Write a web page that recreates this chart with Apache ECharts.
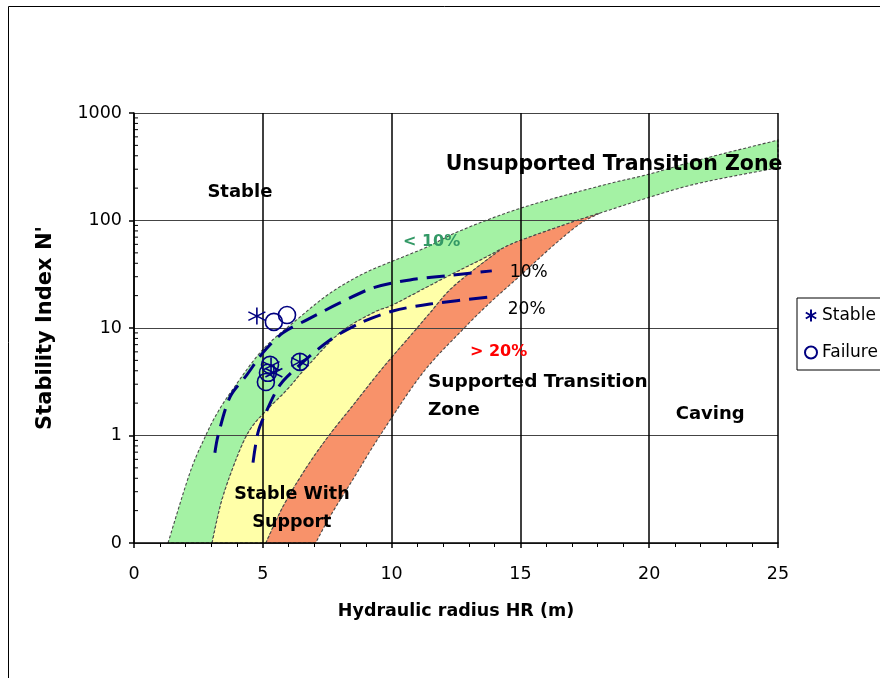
<!DOCTYPE html>
<html>
<head>
<meta charset="utf-8">
<script src="https://cdn.jsdelivr.net/npm/echarts@6/dist/echarts.min.js"></script>
<style>html,body{margin:0;padding:0;background:#fff}#c{width:880px;height:678px}</style>
</head>
<body>
<div id="c"></div>
<script>
// ---- data ----
// Curve A: upper-left edge of the green band
const hrA = [1.32, 2.17, 2.76, 3.22, 3.84, 5.0, 6.33, 7.6, 8.9, 10.05, 11.4, 12.65, 15.0, 18.1, 20.0, 22.0, 25.0];
const nA  = [0.1, 0.45, 0.97, 1.6, 2.7, 6.3, 12, 21, 32, 42, 57, 80, 130, 210, 270, 370, 560];
// Curve B: lower edge of the green band
const hrB = [3.03, 3.41, 4.0, 4.5, 5.16, 5.94, 6.71, 7.99, 9.27, 10.05, 11.37, 12.38, 13.7, 14.3, 14.98, 16.92, 18.08, 20.02, 21.96, 25.0];
const nB  = [0.1, 0.25, 0.63, 1.13, 1.73, 2.66, 4.35, 9.0, 13.8, 16.4, 24, 32, 46, 55, 65, 95, 117, 165, 223, 310];
// Curve C: yellow / orange boundary
const hrC = [5.12, 5.78, 6.64, 7.53, 8.58, 9.66, 10.83, 11.49, 12.26, 13.19, 14.3];
const nC  = [0.1, 0.217, 0.48, 0.97, 2.01, 4.26, 9.0, 13.8, 22.6, 34.7, 55];
// Curve D: lower-right edge of the orange band
const hrD = [7.05, 7.6, 8.58, 9.55, 11.2, 12.75, 13.81, 14.98, 16.26, 17.31, 18.08];
const nD  = [0.1, 0.175, 0.42, 1.0, 3.8, 9.6, 17.1, 30.5, 58, 93, 117];
// Dashed 10% and 20% lines
const hr10 = [3.14, 3.26, 3.73, 4.38, 5.0, 5.78, 6.71, 7.99, 9.27, 10.71, 12.38, 13.89];
const n10  = [0.69, 0.99, 2.29, 3.66, 5.87, 9.0, 11.9, 17.1, 23.6, 28, 31, 34];
const hr20 = [4.62, 4.81, 5.08, 5.67, 6.44, 7.61, 8.77, 10.05, 11.49, 13.89];
const n20  = [0.56, 1.06, 1.56, 2.96, 4.54, 7.74, 11.1, 14.4, 16.7, 19.5];
// Case points
const stableHR = [4.77, 5.32, 5.43, 6.44];
const stableN  = [12.9, 4.44, 3.83, 4.84];
const failHR = [5.43, 5.94, 5.28, 5.2, 5.12, 6.44];
const failN  = [11.4, 13.2, 4.54, 3.83, 3.15, 4.84];
// Axis ticks
const xTicks = [0, 5, 10, 15, 20, 25];
const yTicks = [0.1, 1, 10, 100, 1000];
const yTickLabels = ['0', '1', '10', '100', '1000'];
// Zone annotations (anchored in data coordinates)
const noteText = ['Stable', 'Unsupported Transition Zone', '< 10%', '10%', '20%', '> 20%', 'Supported Transition', 'Zone', 'Caving', 'Stable With', 'Support'];
const noteHR   = [4.11, 12.1, 10.44, 14.59, 14.51, 13.04, 11.41, 11.41, 21.03, 6.13, 6.13];
const noteN    = [184, 328, 63, 33, 14.7, 6.0, 3.15, 1.73, 1.59, 0.28, 0.154];

// ---- styles ----
const FONT = '"DejaVu Sans", Verdana, sans-serif';
const noteStyle = [
  {font: 'bold 18px ' + FONT, fill: '#000', align: 'center'},
  {font: 'bold 20.5px ' + FONT, fill: '#000', align: 'left'},
  {font: 'bold 16px ' + FONT, fill: '#339966', align: 'left'},
  {font: '17px ' + FONT, fill: '#000', align: 'left'},
  {font: '17px ' + FONT, fill: '#000', align: 'left'},
  {font: 'bold 16px ' + FONT, fill: '#ff0000', align: 'left'},
  {font: 'bold 18.5px ' + FONT, fill: '#000', align: 'left'},
  {font: 'bold 18.5px ' + FONT, fill: '#000', align: 'left'},
  {font: 'bold 18px ' + FONT, fill: '#000', align: 'left'},
  {font: 'bold 17.5px ' + FONT, fill: '#000', align: 'center'},
  {font: 'bold 17.5px ' + FONT, fill: '#000', align: 'center'}
];
const NAVY = '#000080';
const ASTERISK = 'path://M10,0L10,20M1.34,5L18.66,15M1.34,15L18.66,5';

const zip = (xs, ys) => xs.map((x, i) => [x, ys[i]]);
const A = zip(hrA, nA), B = zip(hrB, nB), C = zip(hrC, nC), D = zip(hrD, nD);
const mergeC = hrC[hrC.length - 1], mergeD = hrD[hrD.length - 1];
// each band: list of edges, each edge drawn as a smooth curve, joined by straight lines
const greenEdges = [A, B.slice().reverse()];
const yellowEdges = [B.filter(p => p[0] <= mergeC), C.slice().reverse()];
const orangeEdges = [C, [C[C.length - 1]].concat(B.filter(p => p[0] > mergeC && p[0] < mergeD)).concat([D[D.length - 1]]), D.slice().reverse()];

// Catmull-Rom sampling in pixel space (rendering only)
function smoothPixels(P) {
  const out = [P[0]];
  const n = P.length;
  for (let i = 0; i < n - 1; i++) {
    const p0 = P[Math.max(i - 1, 0)], p1 = P[i], p2 = P[i + 1], p3 = P[Math.min(i + 2, n - 1)];
    const c1 = [p1[0] + (p2[0] - p0[0]) / 6, p1[1] + (p2[1] - p0[1]) / 6];
    const c2 = [p2[0] - (p3[0] - p1[0]) / 6, p2[1] - (p3[1] - p1[1]) / 6];
    for (let s = 1; s <= 10; s++) {
      const t = s / 10, u = 1 - t;
      out.push([
        u * u * u * p1[0] + 3 * u * u * t * c1[0] + 3 * u * t * t * c2[0] + t * t * t * p2[0],
        u * u * u * p1[1] + 3 * u * u * t * c1[1] + 3 * u * t * t * c2[1] + t * t * t * p2[1]
      ]);
    }
  }
  return out;
}

function bandSeries(edges, fill) {
  return {
    type: 'custom', z: 1, silent: true, clip: false,
    data: [edges[0][0]],
    renderItem: function (params, api) {
      let pts = [];
      edges.forEach(e => { pts = pts.concat(smoothPixels(e.map(p => api.coord(p)))); });
      return {
        type: 'polygon',
        shape: {points: pts},
        style: {fill: fill, stroke: '#4a4a4a', lineWidth: 1.1, lineDash: [3, 2]}
      };
    }
  };
}

const chart = echarts.init(document.getElementById('c'), null, {renderer: 'canvas'});
chart.setOption({
  animation: false,
  backgroundColor: '#fff',
  textStyle: {fontFamily: FONT},
  grid: {left: 134, right: 102, top: 113, bottom: 135},
  graphic: [{
    type: 'rect', z: 100, silent: true,
    shape: {x: 8.5, y: 6.5, width: 900, height: 700},
    style: {fill: 'none', stroke: '#000', lineWidth: 1}
  }],
  legend: {
    orient: 'vertical', left: 797, top: 298, z: 20,
    backgroundColor: '#fff', borderColor: '#000', borderWidth: 1,
    padding: [9, 60, 9, 7], itemGap: 20, itemWidth: 12, itemHeight: 12,
    textStyle: {fontSize: 17, color: '#000', fontFamily: FONT},
    data: [
      {name: 'Stable', icon: ASTERISK},
      {name: 'Failure', icon: 'circle'}
    ]
  },
  xAxis: {
    type: 'value', min: xTicks[0], max: xTicks[xTicks.length - 1], interval: 5, z: 3,
    name: 'Hydraulic radius HR (m)', nameLocation: 'middle', nameGap: 59,
    nameTextStyle: {fontSize: 17.5, fontWeight: 'bold', color: '#000', fontFamily: FONT},
    axisLine: {lineStyle: {color: '#000', width: 1.5}},
    axisTick: {show: true, length: 5, lineStyle: {color: '#000', width: 1.5}},
    minorTick: {show: true, splitNumber: 5, length: 4, lineStyle: {color: '#000', width: 1}},
    axisLabel: {fontSize: 17.5, color: '#000', margin: 22, fontFamily: FONT},
    splitLine: {show: true, lineStyle: {color: '#000', width: 1.5}}
  },
  yAxis: {
    type: 'log', logBase: 10, min: yTicks[0], max: yTicks[yTicks.length - 1], z: 3,
    name: "Stability Index N'", nameLocation: 'middle', nameGap: 78,
    nameTextStyle: {fontSize: 21, fontWeight: 'bold', color: '#000', fontFamily: FONT},
    axisLine: {lineStyle: {color: '#000', width: 1.5}},
    axisTick: {show: true, length: 5, lineStyle: {color: '#000', width: 1.5}},
    axisLabel: {
      fontSize: 17.5, color: '#000', margin: 12, fontFamily: FONT,
      formatter: function (v) {
        const i = yTicks.findIndex(t => Math.abs(Math.log10(t) - Math.log10(v)) < 1e-6);
        return i >= 0 ? yTickLabels[i] : '';
      }
    },
    splitLine: {show: true, lineStyle: {color: '#444', width: 1}}
  },
  series: [
    bandSeries(greenEdges, '#a4f2a4'),
    bandSeries(yellowEdges, '#ffffa8'),
    bandSeries(orangeEdges, '#f8926a'),
    {
      // log minor ticks on the y axis
      type: 'custom', z: 4, silent: true, clip: false,
      data: [[xTicks[0], 1]],
      renderItem: function (params, api) {
        const kids = [];
        for (let k = -1; k < 3; k++) {
          for (let m = 2; m <= 9; m++) {
            const p = api.coord([xTicks[0], m * Math.pow(10, k)]);
            kids.push({type: 'line', shape: {x1: p[0], y1: p[1], x2: p[0] + 4, y2: p[1]}, style: {stroke: '#000', lineWidth: 1}});
          }
        }
        return {type: 'group', children: kids};
      }
    },
    {
      type: 'line', name: '10% line', data: zip(hr10, n10), smooth: 0.3, symbol: 'none', z: 5,
      lineStyle: {color: NAVY, width: 3, type: [18, 9]}, silent: true
    },
    {
      type: 'line', name: '20% line', data: zip(hr20, n20), smooth: 0.3, symbol: 'none', z: 5,
      lineStyle: {color: NAVY, width: 3, type: [18, 9]}, silent: true
    },
    {
      type: 'scatter', name: 'Stable', data: zip(stableHR, stableN), z: 6,
      symbol: ASTERISK, symbolSize: 17,
      itemStyle: {color: 'rgba(0,0,0,0)', borderColor: NAVY, borderWidth: 1.6, opacity: 1}
    },
    {
      type: 'scatter', name: 'Failure', data: zip(failHR, failN), z: 6,
      symbol: 'circle', symbolSize: 17,
      itemStyle: {color: 'rgba(0,0,0,0)', borderColor: NAVY, borderWidth: 1.6, opacity: 1}
    },
    {
      type: 'custom', z: 7, silent: true, clip: false,
      data: noteText.map((t, i) => [noteHR[i], noteN[i], i]),
      renderItem: function (params, api) {
        const i = api.value(2);
        const p = api.coord([api.value(0), api.value(1)]);
        const s = noteStyle[i];
        return {
          type: 'text', x: p[0], y: p[1],
          style: {text: noteText[i], font: s.font, fill: s.fill, align: s.align, verticalAlign: 'middle'}
        };
      }
    }
  ]
});
</script>
</body>
</html>
